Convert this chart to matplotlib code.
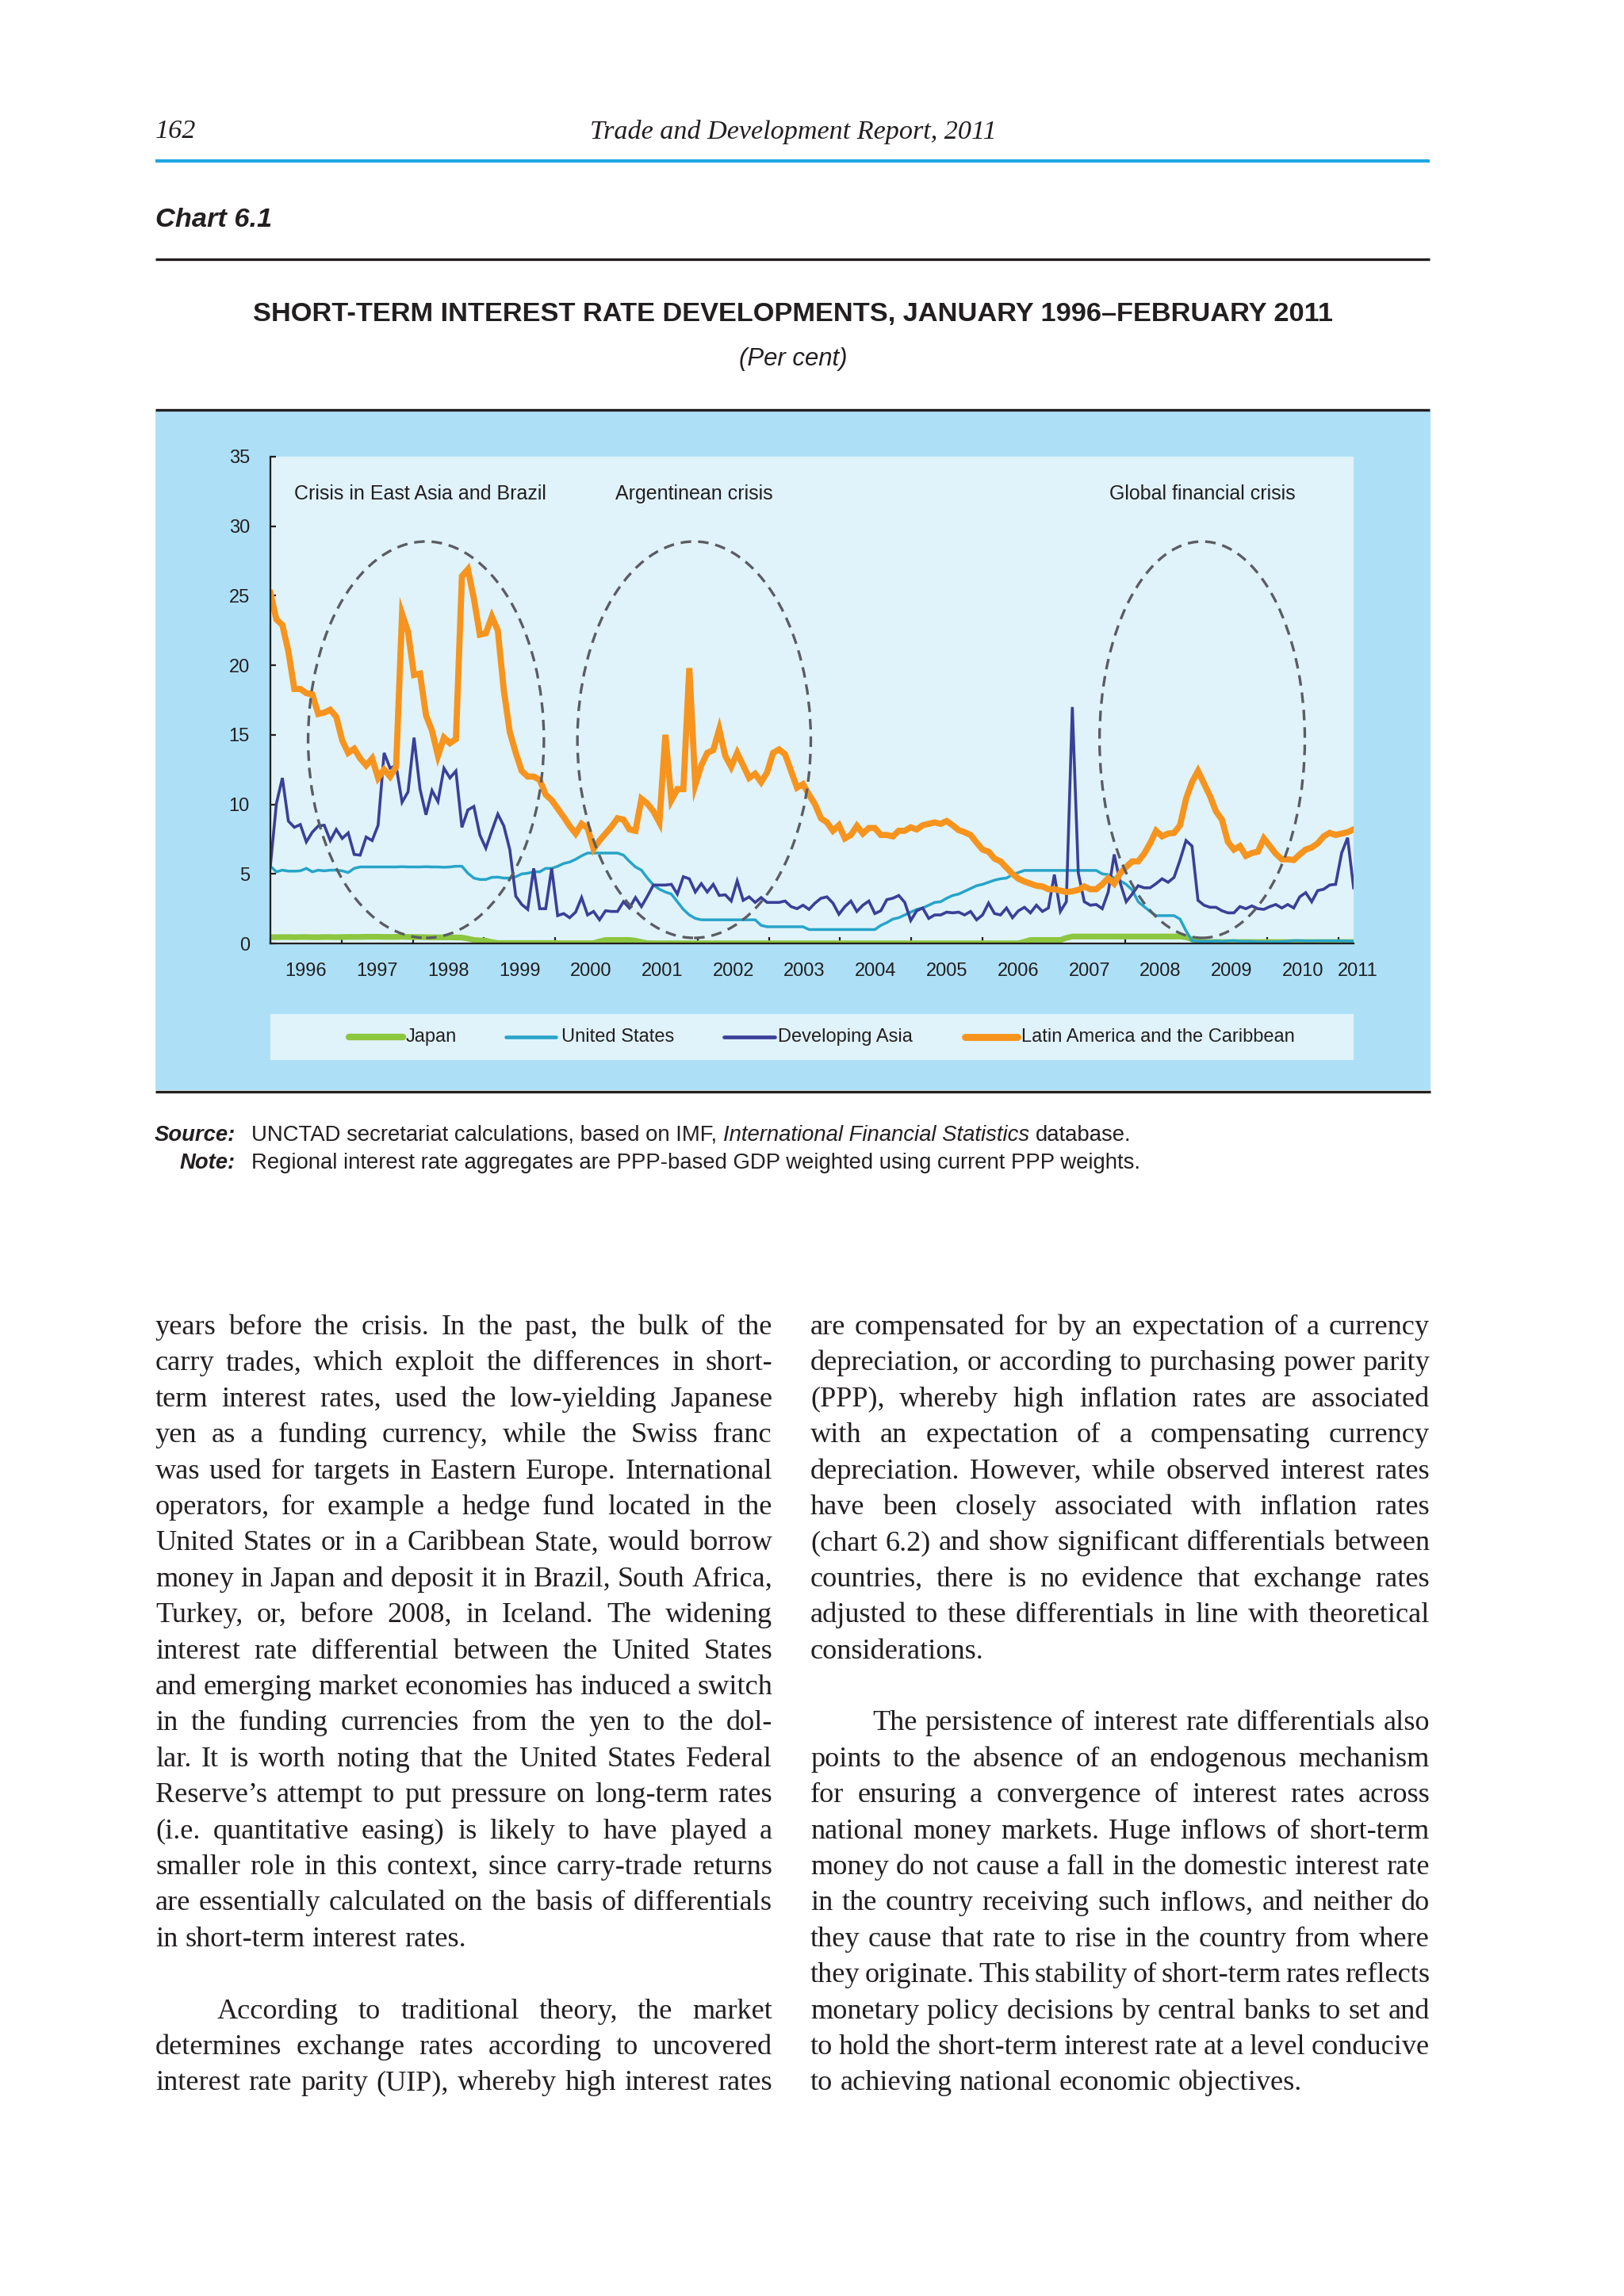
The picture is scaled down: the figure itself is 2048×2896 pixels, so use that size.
#!/usr/bin/python3

import matplotlib
matplotlib.use("Agg")
import matplotlib.pyplot as plt
from matplotlib.patches import Rectangle, Ellipse
from matplotlib.lines import Line2D
from matplotlib.font_manager import FontProperties

#_____________________________________________________________________________
# monthly short-term rates, Jan 1996 - Feb 2011 (per cent), one row per year

japan = [
    0.45, 0.45, 0.46, 0.46, 0.45, 0.46, 0.46, 0.45, 0.45, 0.46, 0.46, 0.45,
    0.46, 0.47, 0.47, 0.47, 0.48, 0.48, 0.48, 0.47, 0.47, 0.47, 0.48, 0.47,
    0.46, 0.46, 0.45, 0.44, 0.44, 0.44, 0.44, 0.43, 0.42, 0.35, 0.25, 0.22,
    0.20, 0.10, 0.03, 0.03, 0.03, 0.03, 0.03, 0.03, 0.03, 0.03, 0.03, 0.03,
    0.02, 0.02, 0.02, 0.02, 0.02, 0.02, 0.02, 0.15, 0.25, 0.25, 0.25, 0.25,
    0.25, 0.20, 0.10, 0.02, 0.01, 0.01, 0.01, 0.01, 0.01, 0.01, 0.01, 0.01,
    0.01, 0.01, 0.01, 0.01, 0.01, 0.01, 0.01, 0.01, 0.01, 0.01, 0.01, 0.01,
    0.01, 0.01, 0.01, 0.01, 0.01, 0.01, 0.01, 0.01, 0.01, 0.01, 0.01, 0.01,
    0.01, 0.01, 0.01, 0.01, 0.01, 0.01, 0.01, 0.01, 0.01, 0.01, 0.01, 0.01,
    0.01, 0.01, 0.01, 0.01, 0.01, 0.01, 0.01, 0.01, 0.01, 0.01, 0.01, 0.01,
    0.01, 0.01, 0.01, 0.01, 0.01, 0.01, 0.12, 0.25, 0.25, 0.25, 0.25, 0.25,
    0.25, 0.40, 0.50, 0.50, 0.50, 0.50, 0.50, 0.50, 0.50, 0.50, 0.50, 0.50,
    0.50, 0.50, 0.50, 0.50, 0.50, 0.50, 0.50, 0.50, 0.50, 0.45, 0.30, 0.15,
    0.10, 0.10, 0.10, 0.10, 0.10, 0.10, 0.10, 0.10, 0.10, 0.10, 0.10, 0.10,
    0.10, 0.10, 0.10, 0.10, 0.10, 0.10, 0.10, 0.10, 0.10, 0.10, 0.10, 0.10,
    0.10, 0.10,
]

united_states = [
    5.55, 5.15, 5.27, 5.20, 5.20, 5.22, 5.40, 5.15, 5.27, 5.22, 5.27, 5.27,
    5.22, 5.10, 5.40, 5.50, 5.50, 5.50, 5.50, 5.50, 5.50, 5.50, 5.52, 5.50,
    5.50, 5.50, 5.52, 5.50, 5.50, 5.48, 5.50, 5.55, 5.55, 5.05, 4.70, 4.60,
    4.60, 4.75, 4.77, 4.70, 4.70, 4.80, 5.00, 5.05, 5.15, 5.15, 5.40, 5.40,
    5.55, 5.75, 5.85, 6.05, 6.30, 6.50, 6.50, 6.50, 6.50, 6.50, 6.50, 6.35,
    5.90, 5.50, 5.27, 4.70, 4.20, 3.90, 3.70, 3.55, 3.00, 2.45, 2.05, 1.80,
    1.70, 1.70, 1.70, 1.70, 1.70, 1.70, 1.70, 1.70, 1.70, 1.70, 1.30, 1.20,
    1.20, 1.20, 1.20, 1.20, 1.20, 1.20, 1.00, 1.00, 1.00, 1.00, 1.00, 1.00,
    1.00, 1.00, 1.00, 1.00, 1.00, 1.00, 1.30, 1.50, 1.75, 1.85, 2.05, 2.25,
    2.45, 2.55, 2.75, 2.95, 3.00, 3.25, 3.45, 3.55, 3.75, 3.95, 4.15, 4.25,
    4.40, 4.55, 4.65, 4.70, 4.95, 5.10, 5.25, 5.25, 5.25, 5.25, 5.25, 5.25,
    5.25, 5.25, 5.25, 5.25, 5.25, 5.25, 5.25, 5.00, 4.95, 4.70, 4.50, 4.25,
    3.85, 3.00, 2.65, 2.30, 2.00, 2.00, 2.00, 2.00, 1.75, 0.90, 0.20, 0.15,
    0.15, 0.15, 0.18, 0.15, 0.18, 0.20, 0.16, 0.15, 0.15, 0.12, 0.12, 0.12,
    0.12, 0.13, 0.16, 0.20, 0.20, 0.18, 0.18, 0.19, 0.19, 0.19, 0.19, 0.18,
    0.17, 0.16,
]

developing_asia = [
    5.60, 10.05, 11.90, 8.80, 8.35, 8.55, 7.30, 8.00, 8.45, 8.50, 7.40, 8.20,
    7.55, 7.95, 6.40, 6.35, 7.65, 7.40, 8.50, 13.70, 12.60, 12.80, 10.15, 10.90,
    14.80, 11.10, 9.25, 11.00, 10.20, 12.60, 11.90, 12.40, 8.35, 9.60, 9.85, 7.80,
    6.85, 8.10, 9.30, 8.45, 6.75, 3.40, 2.80, 2.45, 5.40, 2.50, 2.50, 5.40,
    2.00, 2.15, 1.85, 2.25, 3.30, 2.05, 2.30, 1.70, 2.35, 2.30, 2.30, 3.00,
    2.55, 3.30, 2.65, 3.40, 4.20, 4.20, 4.20, 4.25, 3.55, 4.80, 4.65, 3.70,
    4.30, 3.70, 4.25, 3.45, 3.50, 3.05, 4.50, 3.10, 3.35, 2.95, 3.30, 2.95,
    2.95, 2.95, 3.05, 2.65, 2.50, 2.75, 2.45, 2.90, 3.25, 3.35, 2.90, 2.10,
    2.65, 3.05, 2.30, 2.75, 3.05, 2.15, 2.35, 3.15, 3.25, 3.45, 2.95, 1.65,
    2.35, 2.55, 1.80, 2.05, 2.05, 2.25, 2.20, 2.25, 2.05, 2.30, 1.70, 2.05,
    2.90, 2.15, 2.05, 2.55, 1.85, 2.35, 2.60, 2.20, 2.75, 2.30, 2.55, 4.95,
    2.30, 3.00, 17.00, 5.05, 3.00, 2.75, 2.80, 2.50, 3.70, 6.40, 4.35, 3.00,
    3.55, 4.15, 4.00, 4.00, 4.30, 4.65, 4.40, 4.75, 6.00, 7.40, 7.00, 3.10,
    2.75, 2.60, 2.60, 2.35, 2.20, 2.20, 2.65, 2.50, 2.70, 2.50, 2.45, 2.65,
    2.80, 2.55, 2.80, 2.55, 3.35, 3.65, 3.00, 3.80, 3.90, 4.20, 4.25, 6.50,
    7.60, 4.00,
]

latin_america = [
    25.2, 23.3, 22.9, 21.0, 18.3, 18.3, 18.0, 17.9, 16.5, 16.6, 16.8, 16.3,
    14.6, 13.7, 14.0, 13.3, 12.8, 13.3, 11.9, 12.5, 12.0, 12.7, 23.7, 22.4,
    19.3, 19.4, 16.4, 15.3, 13.5, 14.8, 14.4, 14.7, 26.4, 26.9, 24.8, 22.2,
    22.3, 23.5, 22.5, 18.2, 15.2, 13.7, 12.4, 12.0, 12.0, 11.75, 10.7, 10.3,
    9.7, 9.1, 8.45, 7.9, 8.6, 8.3, 6.8, 7.4, 7.9, 8.4, 9.0, 8.9,
    8.2, 8.1, 10.4, 10.05, 9.5, 8.7, 15.0, 10.3, 11.1, 11.1, 19.8, 11.4,
    12.8, 13.7, 13.9, 15.4, 13.5, 12.7, 13.7, 12.8, 11.9, 12.2, 11.6, 12.3,
    13.7, 13.95, 13.6, 12.4, 11.2, 11.45, 10.7, 10.0, 9.0, 8.7, 8.1, 8.5,
    7.55, 7.8, 8.45, 7.9, 8.3, 8.3, 7.8, 7.8, 7.7, 8.1, 8.1, 8.35,
    8.2, 8.5, 8.6, 8.7, 8.6, 8.8, 8.5, 8.15, 8.0, 7.8, 7.25, 6.75,
    6.6, 6.1, 5.9, 5.45, 5.0, 4.65, 4.45, 4.3, 4.15, 4.1, 3.9, 3.9,
    3.8, 3.7, 3.75, 3.85, 4.1, 3.9, 3.9, 4.25, 4.7, 4.3, 5.05, 5.5,
    5.9, 5.9, 6.45, 7.2, 8.1, 7.7, 7.9, 7.95, 8.5, 10.4, 11.6, 12.4,
    11.5, 10.6, 9.5, 8.9, 7.3, 6.75, 7.0, 6.3, 6.5, 6.6, 7.55, 7.0,
    6.45, 6.05, 6.05, 6.0, 6.4, 6.75, 6.9, 7.2, 7.7, 7.95, 7.8, 7.9,
    8.0, 8.2,
]

series_names = ["Japan", "United States", "Developing Asia",
                "Latin America and the Caribbean"]
years = [str(y) for y in range(1996, 2012)]
yticks = [0, 5, 10, 15, 20, 25, 30, 35]

crisis_labels = ["Crisis in East Asia and Brazil", "Argentinean crisis",
                 "Global financial crisis"]

left_col = [
    "years before the crisis. In the past, the bulk of the",
    "carry trades, which exploit the differences in short-",
    "term interest rates, used the low-yielding Japanese",
    "yen as a funding currency, while the Swiss franc",
    "was used for targets in Eastern Europe. International",
    "operators, for example a hedge fund located in the",
    "United States or in a Caribbean State, would borrow",
    "money in Japan and deposit it in Brazil, South Africa,",
    "Turkey, or, before 2008, in Iceland. The widening",
    "interest rate differential between the United States",
    "and emerging market economies has induced a switch",
    "in the funding currencies from the yen to the dol-",
    "lar. It is worth noting that the United States Federal",
    "Reserve\u2019s attempt to put pressure on long-term rates",
    "(i.e. quantitative easing) is likely to have played a",
    "smaller role in this context, since carry-trade returns",
    "are essentially calculated on the basis of differentials",
    "in short-term interest rates.",
    "",
    "According to traditional theory, the market",
    "determines exchange rates according to uncovered",
    "interest rate parity (UIP), whereby high interest rates",
]

right_col = [
    "are compensated for by an expectation of a currency",
    "depreciation, or according to purchasing power parity",
    "(PPP), whereby high inflation rates are associated",
    "with an expectation of a compensating currency",
    "depreciation. However, while observed interest rates",
    "have been closely associated with inflation rates",
    "(chart 6.2) and show significant differentials between",
    "countries, there is no evidence that exchange rates",
    "adjusted to these differentials in line with theoretical",
    "considerations.",
    "",
    "The persistence of interest rate differentials also",
    "points to the absence of an endogenous mechanism",
    "for ensuring a convergence of interest rates across",
    "national money markets. Huge inflows of short-term",
    "money do not cause a fall in the domestic interest rate",
    "in the country receiving such inflows, and neither do",
    "they cause that rate to rise in the country from where",
    "they originate. This stability of short-term rates reflects",
    "monetary policy decisions by central banks to set and",
    "to hold the short-term interest rate at a level conducive",
    "to achieving national economic objectives.",
]

#_____________________________________________________________________________
W, H, DPI = 2048, 2896, 200
INK = "#231f20"
SANS = "Liberation Sans"
SERIF = "Liberation Serif"

col_japan = "#8dc63f"
col_us = "#27a4c8"
col_asia = "#3a3f98"
col_latam = "#f7941d"

# width of one year on the drawn axis, in month units
year_step = 11.9

#_____________________________________________________________________________
def fx(x):
    return x / W

def fy(y):
    return 1.0 - y / H

#_____________________________________________________________________________
def main():

    fig = plt.figure(figsize=(W / DPI, H / DPI), dpi=DPI)
    fig.patch.set_facecolor("white")

    draw_header(fig)
    draw_chart(fig)
    draw_notes(fig)
    draw_body(fig)

    fig.savefig("out.png", dpi=DPI)
    plt.close()

#main

#_____________________________________________________________________________
def hline(fig, x0, x1, y, col, lw):

    fig.add_artist(Line2D([fx(x0), fx(x1)], [fy(y), fy(y)], color=col, lw=lw,
                          solid_capstyle="butt"))

#hline

#_____________________________________________________________________________
def draw_header(fig):

    fig.text(fx(196), fy(166), "162", family=SERIF, style="italic",
             fontsize=12.3, va="center", color=INK)
    fig.text(fx(1000), fy(166), "Trade and Development Report, 2011",
             family=SERIF, style="italic", fontsize=12.3, va="center",
             ha="center", color=INK)
    hline(fig, 196, 1803, 203, "#1ea7e1", 1.5)

    fig.text(fx(196), fy(277), "Chart 6.1", family=SANS, weight="bold",
             style="italic", fontsize=12.4, va="center", color=INK)
    hline(fig, 196, 1803, 327, INK, 1.2)

    fig.text(fx(1000), fy(397),
             "SHORT-TERM INTEREST RATE DEVELOPMENTS, JANUARY 1996\u2013FEBRUARY 2011",
             family=SANS, weight="bold", fontsize=12.4, va="center",
             ha="center", color=INK)
    fig.text(fx(1000), fy(453), "(Per cent)", family=SANS, style="italic",
             fontsize=11.2, va="center", ha="center", color=INK)
    hline(fig, 196, 1803, 517, INK, 1.2)

#draw_header

#_____________________________________________________________________________
def draw_chart(fig):

    # outer light blue panel and legend strip
    fig.add_artist(Rectangle((fx(196), fy(1375)), fx(1804) - fx(196),
                             fy(518) - fy(1375), transform=fig.transFigure,
                             fc="#ade0f7", ec="none", zorder=-2))
    fig.add_artist(Rectangle((fx(341), fy(1337)), fx(1707) - fx(341),
                             fy(1279) - fy(1337), transform=fig.transFigure,
                             fc="#e0f3fb", ec="none", zorder=-1))
    hline(fig, 196, 1804, 1377, INK, 1.2)

    ax = fig.add_axes([fx(341), fy(1190), fx(1707) - fx(341),
                       fy(576) - fy(1190)])
    ax.set_facecolor("#e0f3fb")

    months = list(range(len(latin_america)))

    data = [japan, united_states, developing_asia, latin_america]
    cols = [col_japan, col_us, col_asia, col_latam]
    widths = [2.6, 1.25, 1.3, 2.8]

    for vals, col, lw in zip(data, cols, widths):
        ax.plot(months, vals, color=col, lw=lw, solid_joinstyle="miter")

    # crisis ellipses
    for (cx, w) in [(26.0, 39.4), (70.8, 39.0), (155.7, 34.3)]:
        ax.add_patch(Ellipse((cx, 14.65), w, 28.5, fill=False, ec="#5a5d63",
                             lw=1.2, ls=(0, (4, 2.6)), zorder=5))

    ax.text(4.0, 32.3, crisis_labels[0], family=SANS, fontsize=9,
            va="center", ha="left", color=INK)
    ax.text(70.8, 32.3, crisis_labels[1], family=SANS, fontsize=9,
            va="center", ha="center", color=INK)
    ax.text(155.7, 32.3, crisis_labels[2], family=SANS, fontsize=9,
            va="center", ha="center", color=INK)

    ax.set_xlim(0, 181)
    ax.set_ylim(0, 35)

    ax.set_yticks(yticks)
    ax.set_yticklabels([str(v) for v in yticks], family=SANS, fontsize=8.5,
                       color=INK)

    ax.set_xticks([k * year_step for k in range(16)])
    ax.set_xticklabels([])
    for k, yr in enumerate(years):
        xpos = (k + 0.5) * year_step if k < 15 else 181.7
        ax.text(xpos, -0.057, yr, transform=ax.get_xaxis_transform(),
                family=SANS, fontsize=8.5, ha="center", va="center",
                color=INK, clip_on=False)

    ax.tick_params(axis="y", direction="in", length=2.6, width=0.8,
                   colors=INK, pad=9.4)
    ax.tick_params(axis="x", direction="in", length=3.0, width=0.8,
                   colors=INK)

    for s in ["top", "right"]:
        ax.spines[s].set_visible(False)
    for s in ["left", "bottom"]:
        ax.spines[s].set_color(INK)
        ax.spines[s].set_linewidth(0.8)

    # legend, drawn by hand to sit in the strip below the axes
    handles = [(440, 508, 512), (638, 701, 708), (913, 977, 981),
               (1217, 1283, 1288)]
    for (h0, h1, tx), col, lw, name in zip(handles, cols, widths, series_names):
        fig.add_artist(Line2D([fx(h0), fx(h1)], [fy(1308), fy(1308)],
                              color=col, lw=lw + 0.4, solid_capstyle="round"))
        fig.text(fx(tx), fy(1308), name, family=SANS, fontsize=8.5,
                 va="center", ha="left", color=INK)

#draw_chart

#_____________________________________________________________________________
def text_width(renderer, s, prop):

    return renderer.get_text_width_height_descent(s, prop, ismath=False)[0]

#text_width

#_____________________________________________________________________________
def draw_notes(fig):

    renderer = fig.canvas.get_renderer()
    size = 9.9
    normal = FontProperties(family=SANS, size=size)
    italic = FontProperties(family=SANS, style="italic", size=size)
    boldit = FontProperties(family=SANS, style="italic", weight="bold",
                            size=size)
    space = text_width(renderer, "a a", normal) - text_width(renderer, "aa", normal)

    rows = [
        (1432, "Source:", [("UNCTAD secretariat calculations, based on IMF,", normal),
                           ("International Financial Statistics", italic),
                           ("database.", normal)]),
        (1467, "Note:", [("Regional interest rate aggregates are PPP-based GDP "
                          "weighted using current PPP weights.", normal)]),
    ]

    for y, head, parts in rows:
        fig.text(fx(297), fy(y), head, fontproperties=boldit, ha="right",
                 va="center", color=INK)
        x = 317
        for s, p in parts:
            fig.text(fx(x), fy(y), s, fontproperties=p, ha="left",
                     va="center", color=INK)
            x += text_width(renderer, s, p) + space

#draw_notes

#_____________________________________________________________________________
def draw_body(fig):

    renderer = fig.canvas.get_renderer()
    base = FontProperties(family=SERIF, size=10)
    sp_base = text_width(renderer, "a a", base) - text_width(renderer, "aa", base)
    indent = 78

    cols = [(left_col, 196, 974, False), (right_col, 1022, 1803, True)]

    # layout: (line index, words, x0, x1, justify)
    layout = []
    for lines, x0, x1, last_ends in cols:
        for i, line in enumerate(lines):
            if line == "":
                continue
            ind = indent if (i > 0 and lines[i - 1] == "") else 0
            if i == len(lines) - 1:
                just = not last_ends
            else:
                just = lines[i + 1] != ""
            layout.append((i, line.split(), x0 + ind, x1, just))

    # font size so that the tightest justified line fits with narrowed spaces
    ratio = 10.0
    for i, words, x0, x1, just in layout:
        if not just:
            continue
        nat = sum(text_width(renderer, w, base) for w in words)
        nat += 0.65 * sp_base * (len(words) - 1)
        ratio = min(ratio, (x1 - x0) / nat)
    size = 10 * ratio * 0.998

    prop = FontProperties(family=SERIF, size=size)
    space = text_width(renderer, "a a", prop) - text_width(renderer, "aa", prop)

    y_first = 1670 + 13
    dy = 45.4

    for i, words, x0, x1, just in layout:
        widths = [text_width(renderer, w, prop) for w in words]
        if just and len(words) > 1:
            gap = (x1 - x0 - sum(widths)) / (len(words) - 1)
        else:
            gap = space
        x = x0
        y = y_first + i * dy
        for w, wd in zip(words, widths):
            fig.text(fx(x), fy(y), w, fontproperties=prop, ha="left",
                     va="baseline", color=INK)
            x += wd + gap

#draw_body

#_____________________________________________________________________________
if __name__ == "__main__":

    main()
